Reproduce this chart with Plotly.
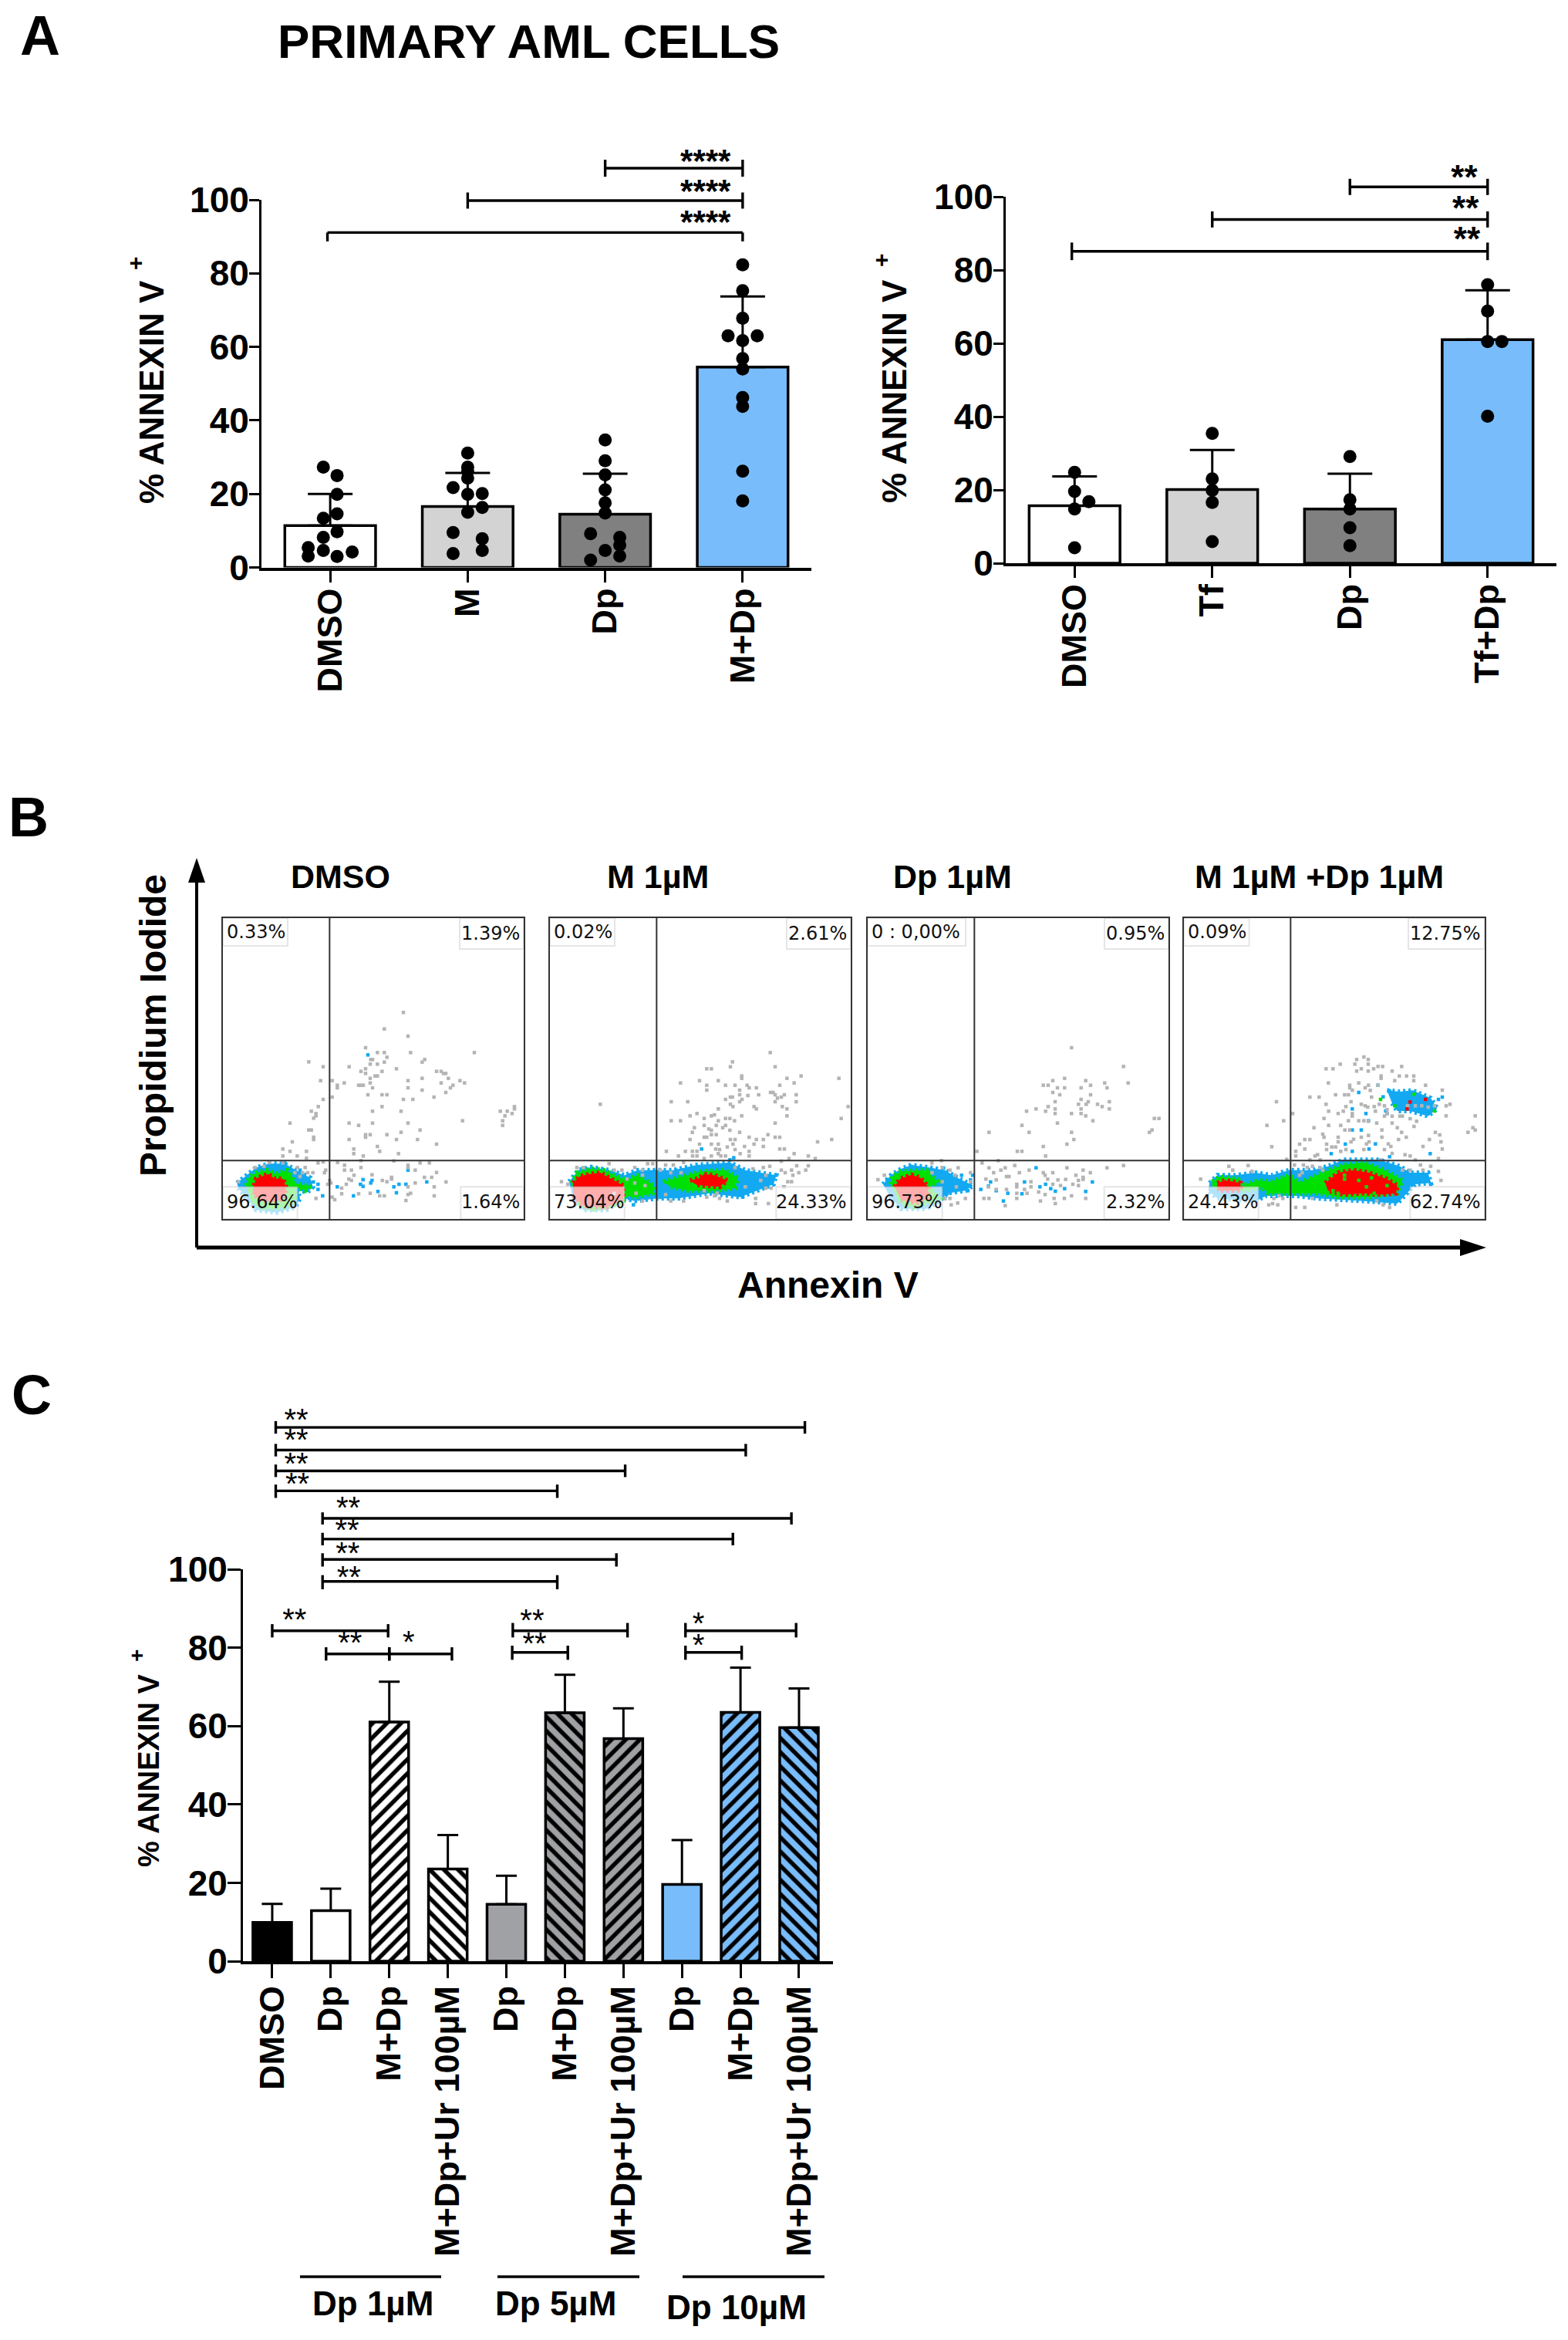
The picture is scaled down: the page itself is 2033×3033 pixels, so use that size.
"""Apoptosis in primary AML cells: annexin V bars (A, C) and flow cytometry dot plots (B)."""
import plotly.graph_objects as go

W, H = 2033, 3033
FONT = "Liberation Sans"
CYTO_FONT = "DejaVu Sans"

# --- panel A, left ------------------------------------------------------------
A1_LABELS = ["DMSO", "M", "Dp", "M+Dp"]
A1_MEAN = [11.4, 16.6, 14.5, 54.5]
A1_SD = [8.6, 9.1, 11.0, 19.2]
A1_POINTS_X = [-0.05, 0.05, 0.05, -0.05, 0.05, 0.05, -0.05, -0.05, -0.16, -0.16, 0.05, 0.16,
               1, 1, 1, 1, 0.894, 1, 1.106, 1.106, 1, 0.894, 1.106, 1.106, 0.894,
               2, 2, 2, 2, 2, 2, 1.894, 2.106, 2.106, 2, 2.106, 1.894,
               3, 3, 3, 2.894, 3.106, 3, 3, 3, 3, 3, 3, 3]
A1_POINTS_Y = [27.3, 25, 19.9, 13.4, 14.6, 9.7, 8.2, 4.6, 5.4, 3.1, 3, 4.2,
               31.1, 27.3, 26.2, 24.3, 21.7, 19.9, 20.1, 16.3, 15, 9.5, 7.8, 4.6, 3.8,
               34.7, 29, 25.2, 21.1, 17.6, 14.8, 9.2, 8.2, 6.1, 4.6, 3.1, 2,
               82.3, 75.3, 67.8, 63, 63, 61.7, 56.8, 54, 46.2, 43.8, 26.2, 18.1]
# x0, x1, y, cap up, cap down
A1_BRACKETS = [(2.0, 3.0, 108.6, 2.3, 2.3), (1.0, 3.0, 99.8, 2.2, 2.2), (-0.02, 3.0, 91.1, 0, 2.4)]
A1_STARS_X = [2.73, 2.73, 2.73]
A1_STARS_Y = [109.7, 101.6, 93.1]

# --- panel A, right -----------------------------------------------------------
A2_LABELS = ["DMSO", "Tf", "Dp", "Tf+Dp"]
A2_MEAN = [15.7, 20.1, 14.8, 61.0]
A2_SD = [8.0, 10.8, 9.6, 13.5]
A2_POINTS_X = [0, 0, 0.104, 0, 0, 1, 1, 1, 1, 1, 2, 2, 2, 2, 2, 3, 3, 3, 3.104, 3]
A2_POINTS_Y = [24.8, 19.6, 16.8, 14.8, 4.2, 35.4, 23, 19.9, 16.6, 5.9, 29.1, 17.3, 14.8, 9.7, 4.8,
               76, 68.8, 60.5, 60.5, 40.1]
A2_BRACKETS = [(2.0, 3.0, 102.7, 2.2, 2.2), (1.0, 3.0, 93.8, 2.2, 2.2), (-0.02, 3.0, 85.1, 2.4, 2.4)]
A2_STARS_X = [2.83, 2.84, 2.85]
A2_STARS_Y = [104.4, 96.0, 87.6]

# --- panel C ------------------------------------------------------------------
C_LABELS = ["DMSO", "Dp", "M+Dp", "M+Dp+Ur 100µM", "Dp", "M+Dp", "M+Dp+Ur 100µM",
            "Dp", "M+Dp", "M+Dp+Ur 100µM"]
C_MEAN = [9.9, 12.9, 61.0, 23.5, 14.5, 63.4, 56.8, 19.6, 63.5, 59.6]
C_SD = [4.7, 5.6, 10.3, 8.7, 7.3, 9.7, 7.7, 11.3, 11.4, 10.0]
C_FILL = ["#000000", "#ffffff", "#ffffff", "#ffffff", "#a0a1a4", "#a0a1a4", "#a0a1a4",
          "#79bcfb", "#79bcfb", "#79bcfb"]
C_HATCH = ["", "", "/", "\\", "", "\\", "/", "", "/", "\\"]
C_BRACKETS = [(0.06, 9.10, 136.2, 1.6, 1.6), (0.06, 8.09, 130.4, 1.6, 1.6), (0.06, 6.03, 125.1, 1.6, 1.6),
              (0.06, 4.87, 120.0, 1.6, 1.8), (0.86, 8.87, 113.0, 1.5, 1.6), (0.86, 7.87, 107.7, 1.6, 1.6),
              (0.86, 5.88, 102.5, 1.6, 1.8), (0.86, 4.87, 96.9, 1.6, 2.0), (0.0, 1.98, 84.3, 1.7, 1.7),
              (0.92, 2.0, 78.4, 1.7, 1.7), (2.0, 3.07, 78.4, 1.7, 1.7), (4.11, 6.07, 84.3, 2, 1.7),
              (4.10, 5.05, 78.8, 1.7, 1.9), (7.06, 8.95, 84.3, 2, 1.7), (7.06, 8.02, 78.8, 1.7, 1.9)]
C_STARS_TEXT = ["**"] * 10 + ["*", "**", "**", "*", "*"]
C_STARS_X = [0.41, 0.41, 0.41, 0.43, 1.3, 1.28, 1.29, 1.31, 0.38, 1.33, 2.33, 4.44, 4.48, 7.28, 7.28]
C_STARS_Y = [137.5, 132.3, 126.1, 121.0, 115.0, 109.2, 103.3, 97.3, 86.4, 80.5, 80.7, 86.2, 80.4, 85.5, 79.9]
C_GROUPS = ["Dp 1µM", "Dp 5µM", "Dp 10µM"]

# --- panel B: dots -----------------------------------------------------------
B_TITLES = ["DMSO", "M 1µM", "Dp 1µM", "M 1µM +Dp 1µM"]
B_GATE_X = 415
B_GATE_Y = 643
B_LABELS = [("0.33%", "1.39%", "96.64%", "1.64%"), ("0.02%", "2.61%", "73.04%", "24.33%"),
            ("0 : 0,00%", "0.95%", "96.73%", "2.32%"), ("0.09%", "12.75%", "24.43%", "62.74%")]

P1_GRAY = [(702,67),(628,131),(720,159),(555,204),(601,223),(628,223),(730,223),(978,223),(638,241),(575,250),
    (582,250),(785,250),(775,260),(334,259),(628,260),(573,268),(601,268),(390,278),(491,278),(675,286),(555,286),
    (555,304),(537,296),(619,296),(831,296),(849,296),(858,304),(867,304),(592,314),(601,314),(573,323),(573,341),
    (775,323),(877,323),(380,332),(720,332),(922,332),(425,332),(472,341),(849,341),(940,341),(528,350),(537,350),
    (546,350),(445,350),(445,360),(582,360),(720,360),(895,350),(885,360),(775,369),(867,378),(564,387),(619,387),
    (638,387),(425,396),(390,405),(702,405),(739,405),(821,396),(371,433),(619,433),(344,451),(582,451),(693,451),
    (1079,451),(1106,451),(1134,433),(1134,442),(1125,460),(1097,469),(362,460),(362,469),(353,478),(932,488),
    (1088,488),(1088,506),(261,497),(491,497),(528,506),(582,497),(720,497),(334,524),(344,524),(767,524),(693,533),
    (555,542),(555,552),(573,542),(638,542),(353,552),(353,561),(491,561),(675,561),(757,561),(270,570),(831,579),
    (601,588),(233,598),(509,598),(610,607),(261,607),(325,607),(509,616),(683,616),(233,625),(289,625),(546,625),
    (325,634),(665,644),(233,652),(370,652),(390,648),(446,650),(537,643),(720,661),(767,652),(803,652),(473,661),
    (537,670),(473,680),(720,670),(748,680),(500,680),(831,689),(784,708),(812,708),(656,708),(620,720),(638,725),
    (510,700),(580,698),(490,715),(500,720),(868,726),(656,715),(748,730),(822,745),(720,745),(400,680),(395,690),
    (415,720),(408,735),(420,730),(480,735),(462,750),(462,772),(528,772),(573,770),(610,780),(628,780),(730,770),
    (720,775),(822,780),(712,798),(435,795),(362,790),(425,785),(320,670),(310,690),(330,690),(350,690),(300,705),
    (280,690),(160,665),(125,670),(60,725),(290,670),(180,650)]
P1_BLUE = [(564,232),(720,680),(545,717),(580,720),(535,735),(545,743),(575,730),(445,745),(603,763),(508,780),
    (675,768),(665,745),(685,735),(712,735),(793,726),(388,780),(370,735),(370,755),(352,726),(300,680),(240,652),(205,665)]
P1_BLOB_BLUE = [(55,730),(90,700),(130,670),(180,655),(240,655),(285,680),(340,710),(350,745),(330,765),(290,760),
    (300,790),(280,825),(210,845),(130,835),(90,790),(60,750)]
P1_BLOB_GREEN = [(90,740),(105,705),(130,690),(175,680),(205,695),(250,680),(270,705),(275,730),(340,745),(320,760),
    (285,745),(280,800),(240,825),(160,830),(110,800)]
P1_BLOB_RED = [(120,740),(130,712),(175,695),(200,712),(235,715),(245,745),(240,790),(200,805),(150,800),(115,770)]

P2_GRAY = [(857,223),(710,259),(702,278),(876,278),(610,286),(628,286),(746,314),(746,323),(977,314),(922,323),
    (1124,323),(582,332),(655,332),(508,341),(950,341),(610,350),(610,369),(683,350),(720,350),(767,350),(775,360),
    (803,360),(894,350),(738,369),(858,378),(868,378),(876,387),(738,387),(770,390),(812,387),(958,387),(912,387),
    (900,396),(885,400),(683,405),(702,396),(710,396),(747,405),(738,414),(472,414),(536,414),(196,424),(876,414),
    (958,414),(702,424),(712,433),(794,433),(803,442),(904,433),(922,442),(655,442),(1160,433),(572,460),(545,469),
    (628,469),(640,465),(746,469),(922,469),(472,488),(508,488),(600,479),(683,479),(700,479),(718,488),(655,488),
    (1133,479),(876,497),(600,506),(647,506),(683,506),(672,515),(562,515),(618,520),(628,525),(700,525),(554,533),
    (738,533),(628,542),(647,542),(848,542),(600,552),(610,552),(775,552),(876,552),(894,552),(545,561),(702,561),
    (720,561),(803,561),(830,561),(1096,561),(1041,570),(582,579),(628,579),(655,579),(712,579),(794,579),(830,588),
    (757,588),(690,590),(645,598),(660,600),(720,600),(775,607),(894,598),(912,598),(453,607),(527,607),(554,607),
    (572,607),(655,616),(665,625),(740,616),(950,616),(500,625),(555,625),(572,625),(628,625),(683,625),(775,625),
    (1005,625),(600,635),(1032,635),(930,635),(520,650),(480,660),(450,660),(900,645),(960,663),(1005,663),(855,665),
    (940,680),(995,680),(968,690),(900,680),(915,690),(945,700),(940,725),(925,725),(230,655),(105,670),(130,670),
    (250,680),(280,680),(330,670),(380,655),(400,655),(45,725),(70,735),(360,700),(450,775),(470,800),(520,800),
    (610,785),(660,790),(690,800),(800,790),(800,810),(850,810),(910,745),(860,750),(840,750),(760,745),(640,780),
    (360,800),(335,770),(250,770),(510,690),(430,680),(720,670),(790,675),(830,670),(470,690),(360,680),(300,715),
    (600,760),(650,770),(820,720),(840,700),(330,730),(370,740)]
P2_BLUE = [(590,598),(715,632),(700,640),(325,815),(310,790),(430,785),(820,700),(860,710),(880,700),(910,745),
    (750,785),(405,685),(490,680)]
P2_BLOB_BLUE = [(75,725),(110,680),(160,668),(230,680),(290,700),(340,680),(410,680),(480,680),(570,660),(700,650),
    (760,680),(830,690),(880,700),(870,735),(800,760),(740,785),(620,770),(500,790),(420,790),(330,800),(290,790),
    (220,835),(130,835),(90,790)]
P2_BLOB_GREEN = [(85,730),(105,690),(160,675),(210,680),(250,700),(300,720),(340,700),(390,730),(410,750),(400,770),
    (330,785),(300,780),(280,810),(160,835),(100,800)]
P2_BLOB_GREEN2 = [(440,725),(520,705),(590,685),(680,680),(730,710),(720,750),(640,760),(540,760),(470,745)]
P2_BLOB_RED = [(90,730),(115,705),(155,695),(195,690),(240,715),(285,740),(285,790),(220,825),(130,820),(90,780)]
P2_BLOB_RED2 = [(545,720),(580,712),(600,695),(640,700),(690,720),(660,745),(600,740),(570,737)]

P3_GRAY = [(793,204),(995,277),(766,323),(720,332),(848,332),(922,341),(1013,341),(683,350),(702,350),(867,350),
    (738,360),(766,360),(830,360),(931,360),(720,378),(747,387),(867,387),(830,405),(729,414),(940,414),(858,414),
    (850,424),(820,424),(894,424),(912,433),(702,433),(729,442),(655,442),(830,442),(940,442),(618,451),(692,451),
    (729,460),(793,460),(830,460),(848,469),(1115,479),(1133,479),(876,488),(738,497),(600,506),(1106,524),(1096,533),
    (472,533),(628,533),(793,533),(802,561),(775,579),(683,588),(582,607),(600,607),(425,607),(692,625),(287,643),
    (508,643),(250,652),(445,652),(995,662),(931,671),(472,671),(535,671),(572,662),(775,671),(290,670),(352,671),
    (518,680),(490,690),(628,680),(590,690),(683,690),(720,690),(838,680),(866,690),(810,700),(320,680),(340,700),
    (400,690),(540,705),(550,705),(460,715),(690,700),(700,715),(740,718),(770,716),(838,708),(838,716),(500,718),
    (580,735),(580,745),(610,755),(635,725),(635,745),(720,735),(750,740),(798,735),(820,740),(820,720),(540,755),
    (500,755),(470,745),(580,770),(620,770),(665,765),(690,775),(725,790),(730,810),(765,790),(793,780),(848,790),
    (672,800),(580,790),(452,790),(472,790),(535,818),(380,790),(320,790),(350,808),(325,815),(300,790),(40,717),
    (65,700),(250,690),(290,725),(345,745),(400,725)]
P3_BLUE = [(168,665),(295,672),(365,700),(408,700),(400,718),(655,671),(610,726),(478,726),(470,742),(440,755),
    (500,760),(545,770),(528,800),(600,772),(670,745),(692,735),(712,752),(730,762),(766,752),(848,763),(874,726),
    (310,770),(390,760),(300,790),(75,717)]
P3_BLOB_BLUE = [(60,735),(90,700),(130,675),(170,660),(240,670),(300,680),(350,710),(410,740),(380,760),(310,770),
    (290,790),(230,830),(130,830),(85,780)]
P3_BLOB_GREEN = [(90,735),(95,705),(130,685),(240,680),(250,705),(275,725),(240,745),(280,790),(180,825),(120,800)]
P3_BLOB_RED = [(105,745),(125,715),(170,698),(205,710),(235,745),(235,790),(190,808),(130,795)]

P4_GRAY = [(700,240),(672,250),(717,250),(608,268),(665,268),(717,268),(755,277),(773,277),(847,277),(553,286),
    (580,286),(672,295),(690,286),(717,295),(738,286),(810,295),(767,314),(767,323),(838,314),(866,314),(894,314),
    (894,332),(820,332),(562,341),(680,341),(755,350),(940,350),(1005,369),(645,350),(645,360),(655,369),(718,350),
    (705,360),(725,370),(590,387),(490,396),(526,396),(640,387),(625,387),(730,396),(360,414),(650,414),(690,424),
    (705,430),(715,435),(553,424),(630,433),(740,433),(760,424),(780,430),(620,451),(563,451),(655,460),(655,470),
    (600,460),(745,451),(790,460),(423,460),(810,470),(850,470),(880,480),(905,490),(1133,469),(1020,469),(1020,430),
    (1035,424),(388,488),(545,479),(640,488),(680,488),(700,488),(717,490),(323,506),(563,506),(610,506),(750,497),
    (810,497),(830,515),(895,510),(506,515),(626,524),(645,524),(770,524),(1124,515),(1133,524),(1105,533),(847,533),
    (540,540),(545,552),(718,545),(690,552),(600,552),(660,560),(650,570),(770,552),(978,533),(995,543),(865,552),
    (470,561),(490,561),(600,570),(835,561),(955,561),(1000,570),(450,579),(555,579),(575,590),(710,578),(720,570),
    (795,578),(805,588),(342,589),(470,598),(555,600),(590,590),(930,588),(1005,598),(435,607),(610,607),(630,600),
    (700,600),(780,600),(810,615),(435,625),(520,620),(490,640),(510,625),(530,640),(860,620),(880,625),(765,640),
    (900,640),(990,635),(400,638),(175,665),(250,662),(430,660),(465,660),(500,665),(530,670),(540,680),(920,660),
    (960,665),(990,685),(1000,720),(190,680),(265,685),(65,715),(460,690),(450,700),(480,670),(350,790),(370,780),
    (345,810),(330,815),(365,815),(385,790),(435,825),(470,825),(500,790),(775,815),(800,825),(595,815),(750,800),
    (850,680),(880,680),(930,680),(870,430),(900,430),(925,430),(950,435),(975,430),(840,470),(790,445),(780,470)]
P4_BLUE = [(755,350),(680,378),(1005,396),(990,405),(708,460),(718,488),(690,524),(655,524),(655,442),(628,579),
    (745,578),(720,598),(655,607),(573,616),(958,616),(800,628),(790,460),(785,450),(775,395),(800,372),(960,735)]
P4_GREEN = [(895,385),(765,405),(975,450),(820,430),(625,700),(625,715),(680,720),(710,745),(740,770),(600,770),
    (580,760),(790,740),(730,710)]
P4_RED = [(880,415),(940,405),(868,442)]
P4_BLOB_BLUE = [(100,730),(130,700),(200,700),(280,690),(340,700),(410,680),(500,680),(560,665),(620,640),(760,640),
    (840,665),(880,690),(950,690),(960,730),(900,735),(860,775),(830,810),(700,800),(600,795),(520,790),(440,780),
    (320,780),(280,800),(130,790),(95,760)]
P4_BLOB_BLUE2 = [(790,370),(840,375),(890,370),(960,400),(985,440),(950,470),(880,450),(830,450),(810,420)]
P4_BLOB_GREEN = [(110,725),(140,705),(210,715),(225,740),(290,720),(340,725),(410,700),(450,730),(540,690),(620,660),
    (700,650),(780,680),(850,720),(830,770),(720,785),(600,785),(530,770),(470,770),(420,770),(330,770),(300,745),
    (240,760),(110,745)]
P4_BLOB_RED = [(550,730),(600,690),(660,680),(720,690),(790,715),(830,740),(825,770),(770,775),(700,770),(620,775),(560,760)]
P4_BLOB_RED2 = [(130,730),(160,720),(220,730),(220,760),(130,760)]

BLUE, GREEN, RED, GRAY = "#12a9f2", "#00e000", "#ff0000", "#b4b4b4"
B_BLOBS = [
    [(P1_BLOB_BLUE, BLUE), (P1_BLOB_GREEN, GREEN), (P1_BLOB_RED, RED)],
    [(P2_BLOB_BLUE, BLUE), (P2_BLOB_GREEN, GREEN), (P2_BLOB_GREEN2, GREEN), (P2_BLOB_RED, RED), (P2_BLOB_RED2, RED)],
    [(P3_BLOB_BLUE, BLUE), (P3_BLOB_GREEN, GREEN), (P3_BLOB_RED, RED)],
    [(P4_BLOB_BLUE, BLUE), (P4_BLOB_BLUE2, BLUE), (P4_BLOB_GREEN, GREEN), (P4_BLOB_RED, RED), (P4_BLOB_RED2, RED)],
]
B_DOTS = [[(P1_BLUE, BLUE), (P1_GRAY, GRAY)], [(P2_BLUE, BLUE), (P2_GRAY, GRAY)],
          [(P3_BLUE, BLUE), (P3_GRAY, GRAY)], [(P4_BLUE, BLUE), (P4_GRAY, GRAY), (P4_GREEN, GREEN), (P4_RED, RED)]]
# right edge of top-left box, left edge of top-right box, left edge of bottom-right box
B_BOXES = [(252, 921, 925), (252, 921, 880), (381, 921, 920), (254, 873, 880)]


def xd(a, b):
    return [a / W, b / W]


def yd(a, b):
    return [1 - b / H, 1 - a / H]


def px(x):
    return x / W


def py(y):
    return 1 - y / H


fig = go.Figure()


# brackets and stars sit above 100, so they use a hidden y axis with the same scale
def brackets(brs, xa, ya, width=3.4):
    xs, ys = [], []
    for x0, x1, y, up, down in brs:
        xs += [x0, x0, None, x0, x1, None, x1, x1, None]
        ys += [y + up, y - down, None, y, y, None, y + up, y - down, None]
    fig.add_trace(go.Scatter(x=xs, y=ys, mode="lines", line=dict(color="black", width=width),
                             xaxis=xa, yaxis=ya))


def stars(xs, ys, text, xa, ya, size, weight="normal"):
    fig.add_trace(go.Scatter(x=xs, y=ys, mode="text", text=text, textposition="middle center",
                             textfont=dict(family=FONT, size=size, color="black", weight=weight),
                             xaxis=xa, yaxis=ya))


def bar_panel(ax, means, sds, fills, hatches, cap, sz_hatch=15):
    # one trace per bar: with a per-point marker colour plotly ignores pattern.fgcolor
    for i, (mean, sd, fill, hatch) in enumerate(zip(means, sds, fills, hatches)):
        fig.add_trace(go.Bar(
            x=[i], y=[mean], width=0.66, xaxis="x" + ax, yaxis="y" + ax,
            marker=dict(color=fill, line=dict(color="black", width=3.5),
                        pattern=dict(shape=hatch, fgcolor="black", bgcolor=fill, fgopacity=1,
                                     size=sz_hatch, solidity=0.42)),
            error_y=dict(type="data", symmetric=False, array=[sd], arrayminus=[0],
                         color="black", thickness=3, width=cap),
        ))


A_FILL = ["#ffffff", "#d3d3d3", "#808080", "#79bcfb"]
NO_HATCH = [""] * 4

bar_panel("", A1_MEAN, A1_SD, A_FILL, NO_HATCH, 29)
fig.add_trace(go.Scatter(x=A1_POINTS_X, y=A1_POINTS_Y, mode="markers",
                         marker=dict(color="black", size=17), cliponaxis=False))
brackets(A1_BRACKETS, "x", "y8")
stars(A1_STARS_X, A1_STARS_Y, ["****"] * 3, "x", "y8", 42, "bold")

bar_panel("2", A2_MEAN, A2_SD, A_FILL, NO_HATCH, 29)
fig.add_trace(go.Scatter(x=A2_POINTS_X, y=A2_POINTS_Y, mode="markers", xaxis="x2", yaxis="y2",
                         marker=dict(color="black", size=17), cliponaxis=False))
brackets(A2_BRACKETS, "x2", "y9")
stars(A2_STARS_X, A2_STARS_Y, ["**"] * 3, "x2", "y9", 44, "bold")

bar_panel("3", C_MEAN, C_SD, C_FILL, C_HATCH, 13.5, 13)
brackets(C_BRACKETS, "x3", "y10")
stars(C_STARS_X, C_STARS_Y, C_STARS_TEXT, "x3", "y10", 40)

YTICK = [0, 20, 40, 60, 80, 100]
bold_font = dict(family=FONT, size=46, color="black", weight="bold")
# suffix, x px, plot top px, baseline px, labels, x range, y tick length, hidden axis suffix, hidden top value
axes = [
    ("", (339, 1052), 259, 735.5, A1_LABELS, [-0.5, 3.5], 13, "8", 115),
    ("2", (1304, 2018), 255, 730, A2_LABELS, [-0.5, 3.5], 13, "9", 110),
    ("3", (315, 1080), 2034, 2542, C_LABELS, [-0.5, 9.58], 17, "10", 142),
]
layout = {}
for ax, dx, top, base, labels, rng, tick, hid, hid_top in axes:
    layout["xaxis" + ax] = dict(
        domain=xd(*dx), range=rng, anchor="y" + ax, showgrid=False, zeroline=False, showline=True,
        linecolor="black", linewidth=4, ticks="outside", ticklen=15 if ax != "3" else 18, tickwidth=3,
        tickcolor="black", tickmode="array", tickvals=list(range(len(labels))), ticktext=labels,
        tickangle=-90, tickfont=dict(family=FONT, size=45, color="black", weight="bold"),
        ticklabelstandoff=-10 if ax != "3" else -8,
    )
    layout["yaxis" + ax] = dict(
        domain=yd(top, base), range=[0, 100], anchor="x" + ax, showgrid=False, zeroline=False, showline=True,
        linecolor="black", linewidth=3, ticks="outside", ticklen=tick, tickwidth=3, tickcolor="black",
        tickmode="array", tickvals=YTICK, ticktext=[str(v) for v in YTICK], tickfont=bold_font,
        ticklabelstandoff=-9,
    )
    layout["yaxis" + hid] = dict(
        domain=yd(base - hid_top * (base - top) / 100, base), range=[0, hid_top], anchor="x" + ax, visible=False,
    )

annotations = []
shapes = []


def text(x, y, s, size, angle=0, weight="bold", family=FONT, xanchor="center"):
    annotations.append(dict(x=px(x), y=py(y), xref="paper", yref="paper", text=s, showarrow=False,
                            textangle=angle, xanchor=xanchor, yanchor="middle",
                            font=dict(family=family, size=size, color="black", weight=weight)))


# flow cytometry panels
B_X = [(289, 679), (713, 1103), (1125, 1515), (1535, 1925)]
for i, (x0, x1) in enumerate(B_X):
    ax = str(i + 4)
    layout["xaxis" + ax] = dict(domain=xd(x0, x1), range=[0, 1170], anchor="y" + ax, showgrid=False,
                                zeroline=False, showline=True, mirror=True, linecolor="#333333", linewidth=2,
                                showticklabels=False, ticks="")
    layout["yaxis" + ax] = dict(domain=yd(1190, 1580), range=[870, -300], anchor="x" + ax, showgrid=False,
                                zeroline=False, showline=True, mirror=True, linecolor="#333333", linewidth=2,
                                showticklabels=False, ticks="")
    for blob, color in B_BLOBS[i]:
        xs, ys = zip(*blob)
        # the dotted edge gives the density clouds their rough outline
        fig.add_trace(go.Scatter(x=xs, y=ys, mode="lines", fill="toself", fillcolor=color,
                                 line=dict(color=color, width=6, dash="3px,4px"), xaxis="x" + ax, yaxis="y" + ax))
    for dots, color in B_DOTS[i]:
        xs, ys = zip(*dots)
        fig.add_trace(go.Scatter(x=xs, y=ys, mode="markers", xaxis="x" + ax, yaxis="y" + ax,
                                 marker=dict(color=color, size=4.5, symbol="square", line_width=0)))
    fig.add_trace(go.Scatter(x=[B_GATE_X, B_GATE_X, None, 0, 1170], y=[-300, 870, None, B_GATE_Y, B_GATE_Y],
                             mode="lines", line=dict(color="#333333", width=2), xaxis="x" + ax, yaxis="y" + ax))
    tl, tr, br = B_BOXES[i]
    box = dict(type="rect", xref="x" + ax, yref="y" + ax, fillcolor="rgba(255,255,255,0.68)",
               line=dict(color="rgba(170,170,170,0.3)", width=2))
    shapes += [dict(box, x0=0, x1=tl, y0=-300, y1=-192), dict(box, x0=tr, x1=1170, y0=-300, y1=-180),
               dict(box, x0=0, x1=290, y0=745, y1=870), dict(box, x0=br, x1=1170, y0=745, y1=870)]
    lab = B_LABELS[i]
    for s, lx, ly, anc in [(lab[0], 8, -247, "left"), (lab[1], 1160, -240, "right"),
                           (lab[2], 10, 803, "left"), (lab[3], 1160, 803, "right")]:
        annotations.append(dict(x=lx, y=ly, xref="x" + ax, yref="y" + ax, text=s, showarrow=False,
                                xanchor=anc, yanchor="middle", font=dict(family=CYTO_FONT, size=24, color="#111111")))

# axis arrows of panel B
shapes += [
    dict(type="line", xref="paper", yref="paper", x0=px(255), x1=px(255), y0=py(1140), y1=py(1617),
         line=dict(color="black", width=4)),
    dict(type="line", xref="paper", yref="paper", x0=px(255), x1=px(1895), y0=py(1617), y1=py(1617),
         line=dict(color="black", width=5)),
    dict(type="path", xref="paper", yref="paper", fillcolor="black", line_width=0,
         path=f"M {px(255)},{py(1112)} L {px(244)},{py(1144)} L {px(266)},{py(1144)} Z"),
    dict(type="path", xref="paper", yref="paper", fillcolor="black", line_width=0,
         path=f"M {px(1927)},{py(1617)} L {px(1893)},{py(1606)} L {px(1893)},{py(1628)} Z"),
]
# group rules under panel C
for x0, x1 in [(389, 572), (645, 829), (885, 1069)]:
    shapes.append(dict(type="line", xref="paper", yref="paper", x0=px(x0), x1=px(x1), y0=py(2951), y1=py(2951),
                       line=dict(color="black", width=3.5)))

text(685, 54, "PRIMARY AML CELLS", 62)
text(52, 46, "A", 72)
text(37, 1059, "B", 72)
text(41, 1808, "C", 72)

text(196, 508, "% ANNEXIN V", 44, -90)
text(176, 341, "+", 30, -90)
text(1160, 507, "% ANNEXIN V", 44, -90)
text(1142, 337, "+", 30, -90)
text(193, 2295, "% ANNEXIN V", 38, -90)
text(177, 2146, "+", 28, -90)

for title, cx in zip(B_TITLES, [441, 853, 1235, 1710]):
    text(cx, 1136, title, 43)
text(198, 1329, "Propidium Iodide", 48, -90)
text(1073, 1665, "Annexin V", 48)

for label, cx, cy in zip(C_GROUPS, [483, 720, 955], [2985, 2985, 2990]):
    text(cx, cy, label, 44)

fig.update_layout(
    width=W, height=H, margin=dict(l=0, r=0, t=0, b=0, autoexpand=False), showlegend=False, barmode="overlay",
    plot_bgcolor="rgba(0,0,0,0)", paper_bgcolor="white", annotations=annotations, shapes=shapes, **layout,
)

fig.write_html("out.html", post_script="document.body.style.margin='0';",
               config=dict(displayModeBar=False))
